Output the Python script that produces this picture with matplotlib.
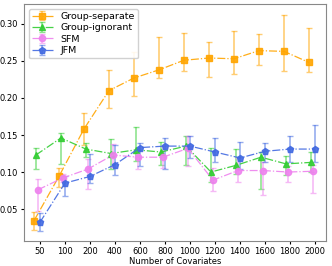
import numpy as np
import matplotlib.pyplot as plt

# number of covariates (categorical x axis)
covariates = ['50', '100', '200', '400', '600', '800', '1000', '1200', '1400', '1600', '1800', '2000']

# mean values and error bar ends (low, high)
sep_mean = [0.034, 0.094, 0.158, 0.210, 0.227, 0.238, 0.251, 0.254, 0.253, 0.264, 0.263, 0.248]
sep_low = [0.022, 0.080, 0.136, 0.186, 0.203, 0.227, 0.237, 0.229, 0.232, 0.244, 0.237, 0.235]
sep_high = [0.046, 0.106, 0.180, 0.238, 0.262, 0.282, 0.288, 0.275, 0.290, 0.287, 0.312, 0.294]

ign_mean = [0.123, 0.146, 0.131, 0.125, 0.130, 0.127, 0.135, 0.100, 0.109, 0.120, 0.111, 0.113]
ign_low = [0.104, 0.111, 0.120, 0.104, 0.115, 0.110, 0.109, 0.087, 0.097, 0.077, 0.096, 0.100]
ign_high = [0.132, 0.153, 0.139, 0.145, 0.161, 0.140, 0.149, 0.132, 0.131, 0.127, 0.121, 0.127]

sfm_mean = [0.076, 0.092, 0.104, 0.123, 0.120, 0.120, 0.132, 0.089, 0.102, 0.102, 0.100, 0.101]
sfm_low = [0.047, 0.087, 0.077, 0.107, 0.104, 0.105, 0.108, 0.074, 0.086, 0.069, 0.086, 0.072]
sfm_high = [0.091, 0.097, 0.118, 0.138, 0.132, 0.135, 0.148, 0.105, 0.119, 0.114, 0.108, 0.110]

jfm_mean = [0.032, 0.085, 0.094, 0.110, 0.133, 0.135, 0.135, 0.127, 0.119, 0.128, 0.131, 0.131]
jfm_low = [0.020, 0.067, 0.085, 0.096, 0.108, 0.104, 0.119, 0.114, 0.104, 0.113, 0.114, 0.113]
jfm_high = [0.045, 0.095, 0.125, 0.137, 0.139, 0.146, 0.148, 0.146, 0.141, 0.139, 0.148, 0.164]

series = [
    ('Group-separate', sep_mean, sep_low, sep_high, 'orange', 's', -0.24),
    ('Group-ignorant', ign_mean, ign_low, ign_high, 'limegreen', '^', -0.16),
    ('SFM', sfm_mean, sfm_low, sfm_high, 'violet', 'o', -0.08),
    ('JFM', jfm_mean, jfm_low, jfm_high, 'royalblue', 'p', 0.0),
]

plt.rcParams['font.size'] = 6

fig = plt.figure(figsize=(3.32, 2.66), dpi=100)
ax = fig.add_axes([0.072, 0.094, 0.91, 0.891])

x = np.arange(len(covariates))
for label, mean, low, high, color, marker, shift in series:
    mean = np.array(mean)
    yerr = [mean - np.array(low), np.array(high) - mean]
    line, caps, bars = ax.errorbar(x + shift, mean, yerr=yerr, label=label, color=color,
                                   marker=marker, markersize=4.5, linestyle='-.', linewidth=0.9,
                                   capsize=2.5, elinewidth=1.2, ecolor=color)
    line.set_alpha(0.9)
    for c in caps:
        c.set_alpha(0.55)
    for b in bars:
        b.set_alpha(0.55)

ax.set_xticks(x)
ax.set_xticklabels(covariates)
ax.set_xlim(-0.64, 11.44)
ax.set_ylim(0.0068, 0.327)
ax.set_yticks([0.05, 0.10, 0.15, 0.20, 0.25, 0.30])
ax.set_xlabel('Number of Covariates', labelpad=1)
ax.tick_params(length=2.5, pad=1.5)
for s in ax.spines.values():
    s.set_color('#888888')

ax.legend(loc='upper left', fontsize=6.8, handlelength=2.2, borderpad=0.35,
          labelspacing=0.25, handletextpad=0.8, framealpha=0.9)

plt.savefig('out.png', dpi=100)
